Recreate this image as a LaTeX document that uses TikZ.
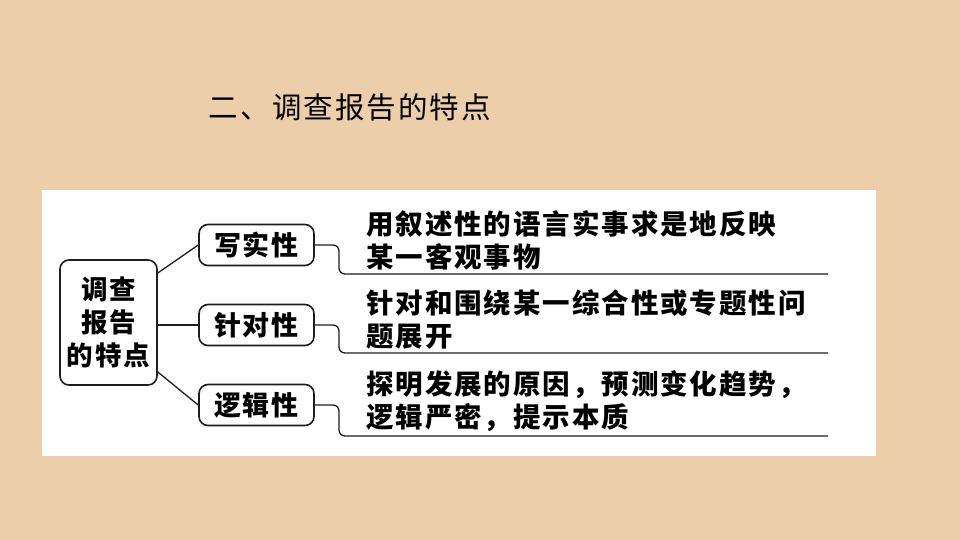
\documentclass[tikz,border=0pt]{standalone}
\usepackage{fontspec}
\setmainfont{Noto Sans CJK SC}
\newfontfamily\spaced[LetterSpace=7]{Noto Sans CJK SC}
\usetikzlibrary{positioning}
\definecolor{cbg}{RGB}{237,206,170}
\definecolor{cline}{RGB}{30,30,30}
\tikzset{
  keybox/.style={draw=cline, line width=1.6pt, rounded corners=9pt, align=center, inner sep=0pt},
  descr/.style={anchor=west, align=left, inner sep=0pt, font=\spaced\bfseries\fontsize{27.5}{33}\selectfont},
  link/.style={draw=cline, line width=1.3pt}
}

\begin{document}
\begin{tikzpicture}[x=1pt,y=-1pt]
    \fill[cbg] (0,0) rectangle (960,540);
    \useasboundingbox (0,0) rectangle (960,540);
    \node[font=\spaced\fontsize{29.5}{34}\selectfont] (title) at (350,107) {二、调查报告的特点};
    \fill[white] (42,190) rectangle (876,456);
    % left box
    \node[keybox, minimum width=97pt, minimum height=125pt,
          font=\spaced\bfseries\fontsize{26.5}{33}\selectfont] (main) at (108.5,322.5) {调查\\报告\\的特点};
    % middle boxes
    \node[keybox, minimum width=115pt, minimum height=41pt,
          font=\spaced\bfseries\fontsize{27}{30}\selectfont] (xie) at (256.5,245) {写实性};
    \node[keybox, minimum width=115pt, minimum height=41pt,
          font=\spaced\bfseries\fontsize{27}{30}\selectfont] (zhen) at (256.5,325) {针对性};
    \node[keybox, minimum width=115pt, minimum height=41pt,
          font=\spaced\bfseries\fontsize{27}{30}\selectfont] (luo) at (256.5,405) {逻辑性};
    % descriptions
    \node[descr] (d1) at (366,240) {用叙述性的语言实事求是地反映\\某一客观事物};
    \node[descr] (d2) at (366,320) {针对和围绕某一综合性或专题性问\\题展开};
    \node[descr] (d3) at (366,401) {探明发展的原因，预测变化趋势，\\逻辑严密，提示本质};
    \coordinate (u1) at (339,274);
    \coordinate (e1) at (828,274);
    \coordinate (u2) at (339,353);
    \coordinate (e2) at (828,353);
    \coordinate (u3) at (339,436);
    \coordinate (e3) at (828,436);
    % connectors
    \draw[link] (main.east |- 0,273) -- (xie.west);
    \draw[link] (main.east |- zhen) -- (zhen.west);
    \draw[link] (main.east |- 0,372) -- (luo.west);
    \draw[link, rounded corners=6pt] (xie.east) -| (u1) -- (e1);
    \draw[link, rounded corners=6pt] (zhen.east) -| (u2) -- (e2);
    \draw[link, rounded corners=6pt] (luo.east) -| (u3) -- (e3);
\end{tikzpicture}
\end{document}
